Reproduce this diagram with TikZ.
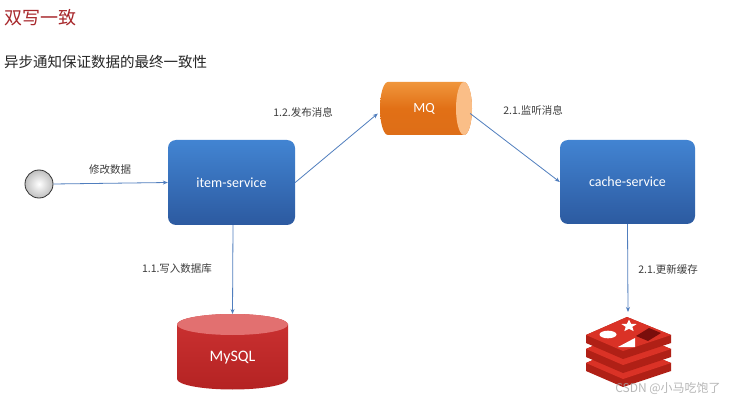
\documentclass[tikz,border=0pt]{standalone}
\usepackage{fontspec}
\setmainfont{Carlito}
\newfontfamily\cjk{Noto Sans CJK SC}
\usetikzlibrary{arrows.meta,shapes.geometric}
\definecolor{titlered}{RGB}{168,40,44}
\definecolor{boxtop}{RGB}{66,132,210}
\definecolor{boxbot}{RGB}{44,90,160}
\definecolor{arrowblue}{RGB}{80,126,190}
\definecolor{mqdark}{RGB}{222,110,24}
\definecolor{mqlight}{RGB}{240,150,60}
\definecolor{mqend}{RGB}{250,190,135}
\definecolor{sqltop}{RGB}{226,112,112}
\definecolor{sqlbody}{RGB}{204,50,50}
\definecolor{sqldark}{RGB}{180,35,35}
\definecolor{redisside}{RGB}{176,32,22}
\definecolor{redistop}{RGB}{218,50,38}
\definecolor{rediscube}{RGB}{122,14,12}
\definecolor{labelgray}{RGB}{60,60,60}
\begin{document}
\begin{tikzpicture}[x=1pt,y=1pt,
  flow/.style={-{Stealth[length=5pt,width=4pt]}, draw=arrowblue, line width=0.8pt},
  svcbox/.style={rounded corners=8pt, top color=boxtop, bottom color=boxbot, draw=none,
     text=white, font=\fontsize{14}{16}\selectfont, inner sep=0pt},
  lbl/.style={text=labelgray, font=\cjk\fontsize{10.5}{12}\selectfont, inner sep=0pt},
  whitetxt/.style={text=white, inner sep=0pt}]
\useasboundingbox (0,0) rectangle (736,402);
\fill[white] (0,0) rectangle (736,402);

% titles
\node[anchor=west, text=titlered, font=\cjk\fontsize{18}{20}\selectfont, inner sep=0pt] (title) at (4,384) {双写一致};
\node[anchor=west, text=black!85, font=\cjk\fontsize{14.5}{16}\selectfont, inner sep=0pt] (subtitle) at (4,340) {异步通知保证数据的最终一致性};

% start circle
\node[circle, minimum size=28pt, inner sep=0pt, draw=black!80, line width=0.8pt,
      inner color=white, outer color=black!25] (start) at (39,218) {};

% service boxes
\node[svcbox, minimum width=127pt, minimum height=85pt] (item) at (231.5,219.5) {item-service};
\node[svcbox, minimum width=135pt, minimum height=84pt] (cache) at (627.5,220) {cache-service};

% MQ cylinder
\shade[top color=mqlight, bottom color=mqdark, middle color=mqdark!90!orange]
  (464,320) -- (388,320) arc[start angle=90,end angle=270,x radius=8,y radius=26.5]
  -- (464,267) arc[start angle=-90,end angle=90,x radius=8,y radius=26.5] -- cycle;
\fill[mqend] (464,293.5) ellipse[x radius=8,y radius=26.5];
\node[whitetxt, minimum width=92pt, minimum height=53pt, font=\fontsize{14}{16}\selectfont] (mq) at (424,293.5) {MQ};

% MySQL cylinder
\shade[top color=sqlbody, bottom color=sqldark]
  (177,77.5) -- (177,23) arc[start angle=180,end angle=360,x radius=55.5,y radius=10.5]
  -- (288,77.5) arc[start angle=0,end angle=180,x radius=55.5,y radius=10.5] -- cycle;
\fill[sqltop] (232.5,77.5) ellipse[x radius=55.5,y radius=10.5];
\coordinate (sqltopc) at (232.5,88);
\node[whitetxt, font=\fontsize{16}{18}\selectfont] (mysql) at (232.5,44) {MySQL};

% Redis logo
\foreach \d in {28,14,0}{
  \fill[redisside] (586,67-\d) -- (627,85-\d) -- (671,67-\d) -- (671,59-\d) -- (623,43-\d) -- (586,59-\d) -- cycle;
  \fill[redistop] (586,67-\d) -- (627,85-\d) -- (671,67-\d) -- (623,51-\d) -- cycle;
}
\fill[white] (608,67.5) ellipse[x radius=8.5,y radius=3.8];
\node[star, star points=5, star point ratio=2.3, fill=white, minimum size=16pt, inner sep=0pt, yscale=0.8] (rstar) at (629,76) {};
\fill[white] (618,55) -- (635,64) -- (635,55) -- cycle;
\fill[rediscube] (636,66) -- (649,74) -- (661,69) -- (648,61) -- cycle;
\coordinate (redistopc) at (628,90);

% connectors
\draw[flow] (start.east) -- (item.west);
\draw[flow] (item.east) -- ([yshift=-5pt]mq.west);
\draw[flow] ([yshift=-5pt]mq.east) -- (cache.west);
\draw[flow] ([xshift=1.5pt]item.south) -- (sqltopc);
\draw[flow] (cache.south) -- (redistopc);

% labels
\node[lbl] (l1) at (110,232) {修改数据};
\node[lbl] (l2) at (303,290) {1.2.发布消息};
\node[lbl] (l3) at (533,292) {2.1.监听消息};
\node[lbl] (l4) at (177,133) {1.1.写入数据库};
\node[lbl] (l5) at (668,132) {2.1.更新缓存};

% watermark
\node[text=gray!70, opacity=0.8, font=\cjk\fontsize{12}{14}\selectfont, inner sep=0pt] (wm) at (668,14) {CSDN @小马吃饱了};
\end{tikzpicture}
\end{document}
